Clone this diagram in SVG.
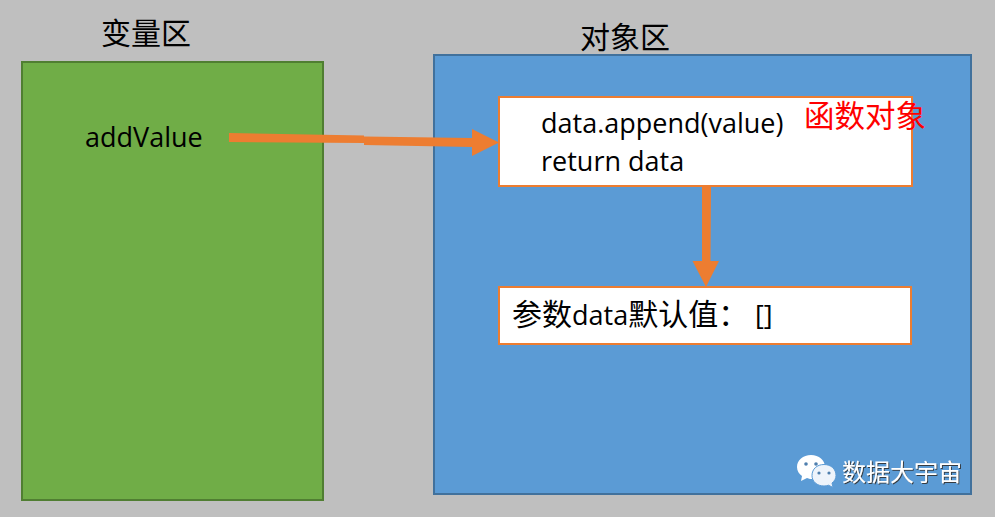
<svg xmlns="http://www.w3.org/2000/svg" width="995" height="517" viewBox="0 0 995 517">
<style>
text{font-family:"Open Sans","Noto Sans CJK SC",sans-serif;fill:#000;font-size:27px}
.c{font-family:"Noto Sans CJK SC",sans-serif;font-size:30px}
.b{fill:#fff;stroke:#ed7d31;stroke-width:2}
.f{fill:#ed7d31}
.eye{fill:#4f7fae}
</style>
<defs>
<filter id="mark-shadow" x="-10%" y="-20%" width="120%" height="140%">
<feDropShadow dx="1" dy="1" stdDeviation="0.5" flood-color="#333" flood-opacity="0.9"/>
</filter>
</defs>
<rect width="995" height="517" fill="#bfbfbf"/>
<g id="var-area">
<rect x="22" y="62" width="301" height="438" fill="#70ad47" stroke="#507e32" stroke-width="2"/>
<text class="c" x="101" y="44">变量区</text>
<text x="85" y="147">addValue</text>
</g>
<g id="object-area">
<rect x="434" y="55" width="537" height="439" fill="#5b9bd5" stroke="#41719c" stroke-width="2"/>
<text class="c" x="580" y="48">对象区</text>
</g>
<g id="function-object">
<rect class="b" x="499" y="97" width="413" height="89"/>
<text x="541" y="133">data.append(value)</text>
<text x="541" y="171">return data</text>
<text class="c" x="804" y="127" style="fill:#f00;font-size:30.500px">函数对象</text>
</g>
<g id="default-value">
<rect class="b" x="499" y="287" width="412" height="57"/>
<text x="512" y="325"><tspan class="c">参数</tspan>data<tspan class="c">默认值：</tspan><tspan x="755">[]</tspan></text>
</g>
<g id="connectors">
<path class="f" d="M229 133L364 135.500L364 136.500L472 138L472 129L499 142.500L472 156L472 147L364 145L364 143L229 142Z"/>
<path class="f" d="M702 187H711L710.500 261H719L706 287L692.500 261H702Z"/>
</g>
<g id="watermark">
<path d="M811 455C803 455 797 460 797 467C797 471 799 474 802 476L801 481L807 478C809 479 811 479 813 479C822 479 825 473 825 467C825 460 819 455 811 455Z" fill="#fff"/>
<circle cx="806" cy="464" r="1.800" class="eye"/>
<circle cx="816" cy="464" r="1.800" class="eye"/>
<path d="M824 464.500C817 464.500 812 469 812 475.500C812 481.500 817 486 824 486C825.500 486 827 485.800 828.500 485.200L833 487.500L832 483C834.500 481 836 478.500 836 475.500C836 469 831 464.500 824 464.500Z" fill="#eef4fb" stroke="#5b9bd5"/>
<circle cx="819" cy="473" r="1.600" class="eye"/>
<circle cx="829" cy="473" r="1.600" class="eye"/>
<text class="c" x="842" y="481" filter="url(#mark-shadow)" style="fill:#fff;font-size:24px">数据大宇宙</text>
</g>
</svg>
